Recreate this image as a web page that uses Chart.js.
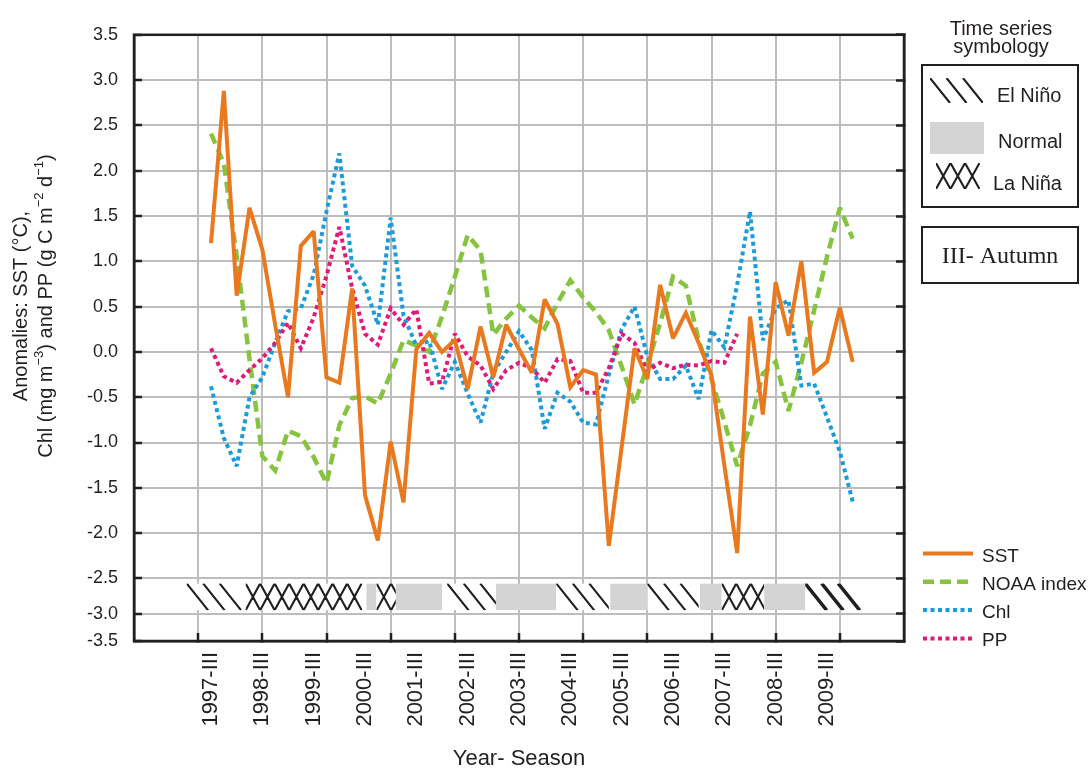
<!DOCTYPE html>
<html lang="en">
<head>
<meta charset="UTF-8">
<title>Anomalies: SST, NOAA index, Chl and PP</title>
<script src="https://cdn.jsdelivr.net/npm/chart.js"></script>
<style>
  body { margin: 0; background: #fff; }
  canvas { display: block; }
</style>
</head>
<body>
<canvas id="anomalyChart" width="1091" height="772"></canvas>
<script>
// one step per season, season 0 = 1997-III (autumn)
const tickLabels = ['1997-III', '1998-III', '1999-III', '2000-III', '2001-III', '2002-III', '2003-III',
                    '2004-III', '2005-III', '2006-III', '2007-III', '2008-III', '2009-III'];
const tickSeasons = [0, 4, 8, 12, 16, 20, 24, 28, 32, 36, 40, 44, 48];

const sst = [1.2, 2.88, 0.62, 1.59, 1.13, 0.3, -0.5, 1.17, 1.33, -0.28,
             -0.34, 0.7, -1.58, -2.08, -0.99, -1.66, 0.03, 0.21, 0.0, 0.13,
             -0.41, 0.28, -0.28, 0.3, 0.03, -0.23, 0.58, 0.31, -0.39, -0.2,
             -0.25, -2.14, -1.05, 0.04, -0.3, 0.74, 0.15, 0.43, 0.1, -0.26,
             -1.25, -2.22, 0.39, -0.69, 0.77, 0.18, 1.0, -0.23, -0.11, 0.49,
             -0.11];
const noaa = [2.41, 2.08, 1.06, -0.08, -1.15, -1.31, -0.87, -0.93, -1.16, -1.45,
              -0.81, -0.51, -0.49, -0.57, -0.24, 0.13, 0.07, 0.0, 0.39, 0.83,
              1.29, 1.12, 0.19, 0.37, 0.51, 0.38, 0.26, 0.54, 0.79, 0.6,
              0.44, 0.24, -0.16, -0.58, -0.15, 0.32, 0.83, 0.73, 0.13, -0.3,
              -0.77, -1.26, -0.81, -0.24, -0.11, -0.65, -0.12, 0.46, 1.05, 1.59,
              1.25];
const chl = [-0.38, -0.95, -1.26, -0.5, -0.28, 0.1, 0.45, 0.48, 0.85, 1.55,
             2.19, 0.95, 0.73, 0.3, 1.48, 0.4, 0.07, 0.12, -0.41, -0.11,
             -0.46, -0.78, -0.23, 0.0, 0.23, 0.02, -0.85, -0.45, -0.55, -0.78,
             -0.8, -0.25, 0.25, 0.5, -0.05, -0.3, -0.3, -0.15, -0.52, 0.24,
             0.05, 0.74, 1.55, 0.13, 0.48, 0.57, -0.37, -0.35, -0.72, -1.1,
             -1.65];
const pp = [0.04, -0.27, -0.34, -0.2, -0.07, 0.1, 0.32, 0.04, 0.38, 0.84,
            1.38, 0.7, 0.2, 0.08, 0.48, 0.3, 0.47, -0.35, -0.33, 0.2,
            -0.05, -0.15, -0.41, -0.2, -0.12, -0.18, -0.34, -0.08, -0.1, -0.45,
            -0.45, -0.18, 0.2, 0.1, -0.21, -0.12, -0.18, -0.14, -0.15, -0.1,
            -0.12, 0.2];

// ENSO phases, in season units
const phaseStart = [-1.9, 2.7, 12.1, 12.9, 14.4, 18.4, 22.2, 26.9, 31.1, 34.0, 38.1, 39.8, 43.1, 46.3];
const phaseEnd   = [2.4, 11.8, 12.9, 14.4, 18.0, 22.2, 26.9, 31.0, 34.0, 38.0, 39.8, 43.1, 46.3, 50.7];
const phaseType  = ['elnino', 'lanina', 'normal', 'lanina', 'normal', 'elnino', 'normal',
                    'elnino', 'normal', 'elnino', 'normal', 'lanina', 'normal', 'elninoStrong'];
const ENSO_TOP = -2.57;
const ENSO_BOTTOM = -2.95;

const INK = '#231F20';
const GRID = '#BDBDBD';
const NORMAL_GREY = '#D4D4D4';

// narrow font if there is one, otherwise plain Liberation Sans a bit smaller
const probe = document.createElement('canvas').getContext('2d');
function fontInstalled(name) {
    const sample = 'Year- Season 1997-III';
    probe.font = '40px monospace';
    const w0 = probe.measureText(sample).width;
    probe.font = `40px "${name}", monospace`;
    return probe.measureText(sample).width !== w0;
}
const narrow = fontInstalled('Liberation Sans Narrow');
const SANS = narrow ? '"Liberation Sans Narrow", "Liberation Sans", sans-serif' : '"Liberation Sans", Arial, sans-serif';
const size = px => narrow ? px : Math.round(px * 0.85);
Chart.defaults.font.family = SANS;
Chart.defaults.color = INK;

// the bottom of the y axis is squeezed in the original figure
const yBreaks = [-3.5, -3.0, -2.5, 3.5];
const yBreakPos = [0, 0.0447, 0.1032, 1];

function valueToFraction(v) {
    let k = 0;
    while (k < yBreaks.length - 2 && v > yBreaks[k + 1]) k++;
    return yBreakPos[k] + (v - yBreaks[k]) / (yBreaks[k + 1] - yBreaks[k]) * (yBreakPos[k + 1] - yBreakPos[k]);
}
function fractionToValue(f) {
    let k = 0;
    while (k < yBreakPos.length - 2 && f > yBreakPos[k + 1]) k++;
    return yBreaks[k] + (f - yBreakPos[k]) / (yBreakPos[k + 1] - yBreakPos[k]) * (yBreaks[k + 1] - yBreaks[k]);
}

class SqueezedScale extends Chart.LinearScale {
    static id = 'squeezed';
    getPixelForValue(value) {
        if (value === null || value === undefined) return NaN;
        return this.getPixelForDecimal(valueToFraction(value));
    }
    getValueForPixel(pixel) {
        return fractionToValue(this.getDecimalForPixel(pixel));
    }
}
Chart.register(SqueezedScale);

// hatched / grey block for one ENSO phase
function drawPhase(ctx, x0, x1, top, bottom, type) {
    const h = bottom - top;
    ctx.save();
    ctx.beginPath();
    ctx.rect(x0, top, x1 - x0, h);
    ctx.clip();
    ctx.fillStyle = type === 'normal' ? NORMAL_GREY : '#fff';
    ctx.fillRect(x0, top, x1 - x0, h);
    ctx.strokeStyle = INK;
    ctx.beginPath();
    if (type === 'lanina') {
        const step = 14.5;
        ctx.lineWidth = 2.1;
        for (let x = x0; x < x1 - 2; x += step) {
            ctx.moveTo(x, top); ctx.lineTo(x + step, bottom);
            ctx.moveTo(x + step, top); ctx.lineTo(x, bottom);
        }
    } else if (type !== 'normal') {
        const slant = h * 0.8;
        ctx.lineWidth = type === 'elninoStrong' ? 3.5 : 2.1;
        for (let x = x0; x + slant * 0.6 < x1; x += 16.5) {
            ctx.moveTo(x, top); ctx.lineTo(x + slant, bottom);
        }
    }
    ctx.stroke();
    ctx.restore();
}

const ensoBars = {
    id: 'ensoBars',
    beforeDatasetsDraw(chart) {
        const {ctx, chartArea, scales: {x, y}} = chart;
        const top = y.getPixelForValue(ENSO_TOP);
        const bottom = y.getPixelForValue(ENSO_BOTTOM);
        phaseStart.forEach((s, k) => {
            drawPhase(ctx, x.getPixelForValue(s), x.getPixelForValue(phaseEnd[k]), top, bottom, phaseType[k]);
        });
        ctx.save();
        ctx.strokeStyle = INK;
        ctx.lineWidth = 2.5;
        ctx.strokeRect(chartArea.left, chartArea.top, chartArea.right - chartArea.left, chartArea.bottom - chartArea.top);
        ctx.restore();
        // keep the sharp SST peaks from growing long miter spikes
        ctx.miterLimit = 2.5;
    }
};

const seriesLegend = {
    id: 'seriesLegend',
    afterDraw(chart) {
        const ctx = chart.ctx;
        ctx.save();
        ctx.font = `${size(22.5)}px ${SANS}`;
        ctx.textBaseline = 'alphabetic';
        chart.data.datasets.forEach((ds, i) => {
            const y = 553.5 + i * 28.3;
            ctx.strokeStyle = ds.borderColor;
            ctx.lineWidth = ds.borderWidth;
            ctx.setLineDash(ds.borderDash || []);
            ctx.beginPath();
            ctx.moveTo(923, y);
            ctx.lineTo(973, y);
            ctx.stroke();
            ctx.setLineDash([]);
            ctx.fillStyle = INK;
            ctx.fillText(ds.label, 982, y + 8);
        });
        ctx.restore();
    }
};

const symbology = {
    id: 'symbology',
    afterDraw(chart) {
        const ctx = chart.ctx;
        ctx.save();
        ctx.fillStyle = INK;
        ctx.strokeStyle = INK;
        ctx.lineWidth = 2;
        ctx.textAlign = 'center';
        ctx.font = `${size(23)}px ${SANS}`;
        ctx.fillText('Time series', 1001, 35);
        ctx.fillText('symbology', 1001, 53);
        ctx.strokeRect(922, 65, 156, 142);
        drawPhase(ctx, 930, 983, 78, 103, 'elnino');
        drawPhase(ctx, 930, 984, 122, 154, 'normal');
        drawPhase(ctx, 936, 980, 163, 189, 'lanina');
        ctx.textAlign = 'left';
        ctx.font = `${size(24)}px ${SANS}`;
        ctx.fillText('El Niño', 997, 102);
        ctx.fillText('Normal', 998, 148);
        ctx.fillText('La Niña', 993, 190);
        ctx.strokeRect(922, 227, 156, 56);
        ctx.textAlign = 'center';
        ctx.font = '24px "Liberation Serif", serif';
        ctx.fillText('III- Autumn', 1000, 263);
        ctx.restore();
    }
};

// two-line y title with superscripts
const yTitleLines = [
    [['Anomalies: SST (°C),', false]],
    [['Chl (mg m', false], ['−3', true], [') and PP (g C m', false], ['−2', true], [' d', false], ['−1', true], [')', false]]
];
const yTitle = {
    id: 'yTitle',
    afterDraw(chart) {
        const ctx = chart.ctx;
        const mainFont = `${size(24)}px ${SANS}`;
        const supFont = `${size(15)}px ${SANS}`;
        ctx.save();
        ctx.fillStyle = INK;
        ctx.textBaseline = 'alphabetic';
        yTitleLines.forEach((parts, li) => {
            let total = 0;
            parts.forEach(([t, sup]) => { ctx.font = sup ? supFont : mainFont; total += ctx.measureText(t).width; });
            ctx.save();
            ctx.translate(18 + li * 25, 306);
            ctx.rotate(-Math.PI / 2);
            let x = -total / 2;
            parts.forEach(([t, sup]) => {
                ctx.font = sup ? supFont : mainFont;
                ctx.fillText(t, x, sup ? 0 : 8.5);
                x += ctx.measureText(t).width;
            });
            ctx.restore();
        });
        ctx.restore();
    }
};

const seasonPoints = values => values.map((v, i) => ({x: i, y: v}));
const gridSeasons = Array.from({length: 11}, (_, k) => -1 + 5 * k);

const axisGrid = {color: GRID, lineWidth: 2, tickColor: INK, tickWidth: 2.5, tickLength: -8};

new Chart(document.getElementById('anomalyChart'), {
    type: 'line',
    data: {
        datasets: [
            {label: 'SST', data: seasonPoints(sst), borderColor: '#E8791F', borderWidth: 4, order: 0},
            {label: 'NOAA index', data: seasonPoints(noaa), borderColor: '#86C440', borderWidth: 4.5, borderDash: [11, 6], order: 3},
            {label: 'Chl', data: seasonPoints(chl), borderColor: '#1B9BD7', borderWidth: 4, borderDash: [4, 3.5], order: 2},
            {label: 'PP', data: seasonPoints(pp), borderColor: '#E0197B', borderWidth: 4, borderDash: [4, 3.5], order: 1}
        ]
    },
    options: {
        responsive: false,
        animation: false,
        layout: {padding: {top: 14, right: 187, bottom: 0, left: 0}},
        elements: {point: {radius: 0}, line: {tension: 0, fill: false}},
        plugins: {legend: {display: false}, tooltip: {enabled: false}},
        scales: {
            x: {
                type: 'linear', position: 'bottom', weight: 0, min: -6, max: 54,
                afterBuildTicks: s => { s.ticks = gridSeasons.map(v => ({value: v})); },
                afterFit: s => { s.height = 0; },
                ticks: {display: false},
                grid: axisGrid,
                border: {color: INK, width: 2.5}
            },
            xLabels: {
                type: 'linear', position: 'bottom', weight: 1, min: -6, max: 54,
                afterBuildTicks: s => { s.ticks = tickSeasons.map(v => ({value: v})); },
                afterFit: s => { s.height = 131; },
                ticks: {
                    autoSkip: false, minRotation: 90, maxRotation: 90, padding: 11,
                    font: {size: size(26)},
                    callback: (v, i) => tickLabels[i]
                },
                grid: {display: false, drawTicks: false},
                border: {display: false},
                title: {display: true, text: 'Year- Season', font: {size: size(26)}, padding: 0}
            },
            y: {
                type: 'squeezed', position: 'left', min: -3.5, max: 3.5,
                afterFit: s => { s.width = 134; },
                ticks: {stepSize: 0.5, padding: 24, font: {size: size(21.5)}, callback: v => v.toFixed(1)},
                grid: axisGrid,
                border: {color: INK, width: 2.5}
            },
            yRight: {
                type: 'squeezed', position: 'right', min: -3.5, max: 3.5,
                afterFit: s => { s.width = 0; },
                ticks: {stepSize: 0.5, display: false},
                grid: {drawOnChartArea: false, tickColor: INK, tickWidth: 2.5, tickLength: -8},
                border: {color: INK, width: 2.5}
            }
        }
    },
    plugins: [ensoBars, seriesLegend, symbology, yTitle]
});
</script>
</body>
</html>
